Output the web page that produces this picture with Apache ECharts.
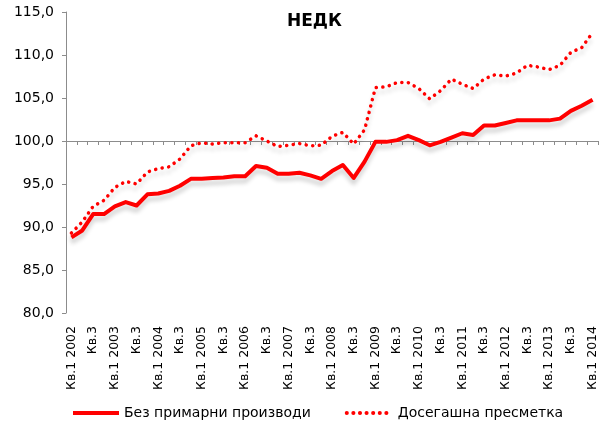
<!DOCTYPE html>
<html>
<head>
<meta charset="utf-8">
<script src="https://cdn.jsdelivr.net/npm/echarts@6/dist/echarts.min.js"></script>
<style>html,body{margin:0;padding:0;background:#fff}#c{width:601px;height:427px}</style>
</head>
<body>
<div id="c"></div>
<script>
var categories = [
  "Кв.1 2002","Кв.2","Кв.3","Кв.4",
  "Кв.1 2003","Кв.2","Кв.3","Кв.4",
  "Кв.1 2004","Кв.2","Кв.3","Кв.4",
  "Кв.1 2005","Кв.2","Кв.3","Кв.4",
  "Кв.1 2006","Кв.2","Кв.3","Кв.4",
  "Кв.1 2007","Кв.2","Кв.3","Кв.4",
  "Кв.1 2008","Кв.2","Кв.3","Кв.4",
  "Кв.1 2009","Кв.2","Кв.3","Кв.4",
  "Кв.1 2010","Кв.2","Кв.3","Кв.4",
  "Кв.1 2011","Кв.2","Кв.3","Кв.4",
  "Кв.1 2012","Кв.2","Кв.3","Кв.4",
  "Кв.1 2013","Кв.2","Кв.3","Кв.4",
  "Кв.1 2014"
];
var bezPrimarni = [
  88.8, 89.6, 91.5, 91.5, 92.4, 92.9, 92.5, 93.8, 93.9, 94.2,
  94.8, 95.6, 95.6, 95.7, 95.75, 95.9, 95.9, 97.1, 96.9, 96.2,
  96.2, 96.3, 96.0, 95.6, 96.5, 97.2, 95.7, 97.6, 99.9, 99.9,
  100.1, 100.6, 100.1, 99.5, 99.9, 100.4, 100.9, 100.7, 101.8, 101.8,
  102.1, 102.4, 102.4, 102.4, 102.4, 102.6, 103.5, 104.1, 104.8
];
var dosegashna = [
  89.3, 90.6, 92.4, 93.1, 94.6, 95.3, 95.0, 96.4, 96.8, 97.0,
  97.9, 99.45, 99.8, 99.65, 99.8, 99.8, 99.8, 100.6, 100.0, 99.35,
  99.5, 99.7, 99.45, 99.5, 100.55, 101.0, 99.65, 101.3, 106.2, 106.3,
  106.8, 106.8, 106.1, 104.9, 105.85, 107.2, 106.6, 106.1, 107.2, 107.7,
  107.55, 107.9, 108.8, 108.6, 108.3, 108.8, 110.3, 110.85, 112.6
];
var seriesNames = ["Без примарни производи", "Досегашна пресметка"];
var yTicks = {min: 80, max: 115, interval: 5};

var FONT = "DejaVu Sans";
var chart = echarts.init(document.getElementById('c'), null, {renderer: 'canvas'});
var shadow = {shadowColor: 'rgba(0,0,0,0.18)', shadowBlur: 4, shadowOffsetY: 5};
chart.setOption({
  animation: false,
  backgroundColor: '#ffffff',
  title: {
    text: 'НЕДК', left: 282, top: 8,
    textStyle: {fontFamily: FONT, fontSize: 17, fontWeight: 'bold', color: '#000'}
  },
  grid: {left: 66, right: 3, top: 12, bottom: 114, containLabel: false},
  legend: {
    left: 66, top: 401, itemWidth: 46, itemHeight: 12, itemGap: 34,
    textStyle: {fontFamily: FONT, fontSize: 14, color: '#000'},
    itemStyle: {opacity: 0},
    lineStyle: {width: 4, shadowBlur: 0, shadowOffsetY: 0, shadowColor: 'transparent'},
    data: seriesNames
  },
  xAxis: [{
    type: 'category', data: categories, boundaryGap: true, position: 'bottom',
    axisLine: {show: false}, axisTick: {show: false},
    axisLabel: {interval: 1, rotate: 90, margin: 13, fontFamily: FONT, fontSize: 12.5, color: '#000'}
  }, {
    type: 'category', data: categories, boundaryGap: true, position: 'bottom', offset: -172,
    axisLine: {show: true, lineStyle: {color: '#8c8c8c', width: 1}},
    axisTick: {show: true, interval: 0, length: 4, lineStyle: {color: '#8c8c8c'}},
    axisLabel: {show: false}
  }],
  yAxis: {
    type: 'value', min: yTicks.min, max: yTicks.max, interval: yTicks.interval,
    axisLine: {show: true, lineStyle: {color: '#8c8c8c', width: 1}},
    axisTick: {show: true, length: 4, lineStyle: {color: '#8c8c8c'}},
    splitLine: {show: false},
    axisLabel: {margin: 12, fontFamily: FONT, fontSize: 14, color: '#000',
      formatter: function (v) { return v.toFixed(1).replace('.', ','); }}
  },
  series: [{
    name: seriesNames[0], type: 'line', data: bezPrimarni, xAxisIndex: 0,
    symbol: 'none', color: '#ff0000', z: 3,
    lineStyle: Object.assign({color: '#ff0000', width: 4, join: 'round'}, shadow)
  }, {
    name: seriesNames[1], type: 'line', data: dosegashna, xAxisIndex: 0,
    symbol: 'none', color: '#ff0000', z: 2,
    lineStyle: Object.assign({color: '#ff0000', width: 3.5, type: [0.1, 6.5], cap: 'round'}, shadow)
  }]
});
</script>
</body>
</html>
